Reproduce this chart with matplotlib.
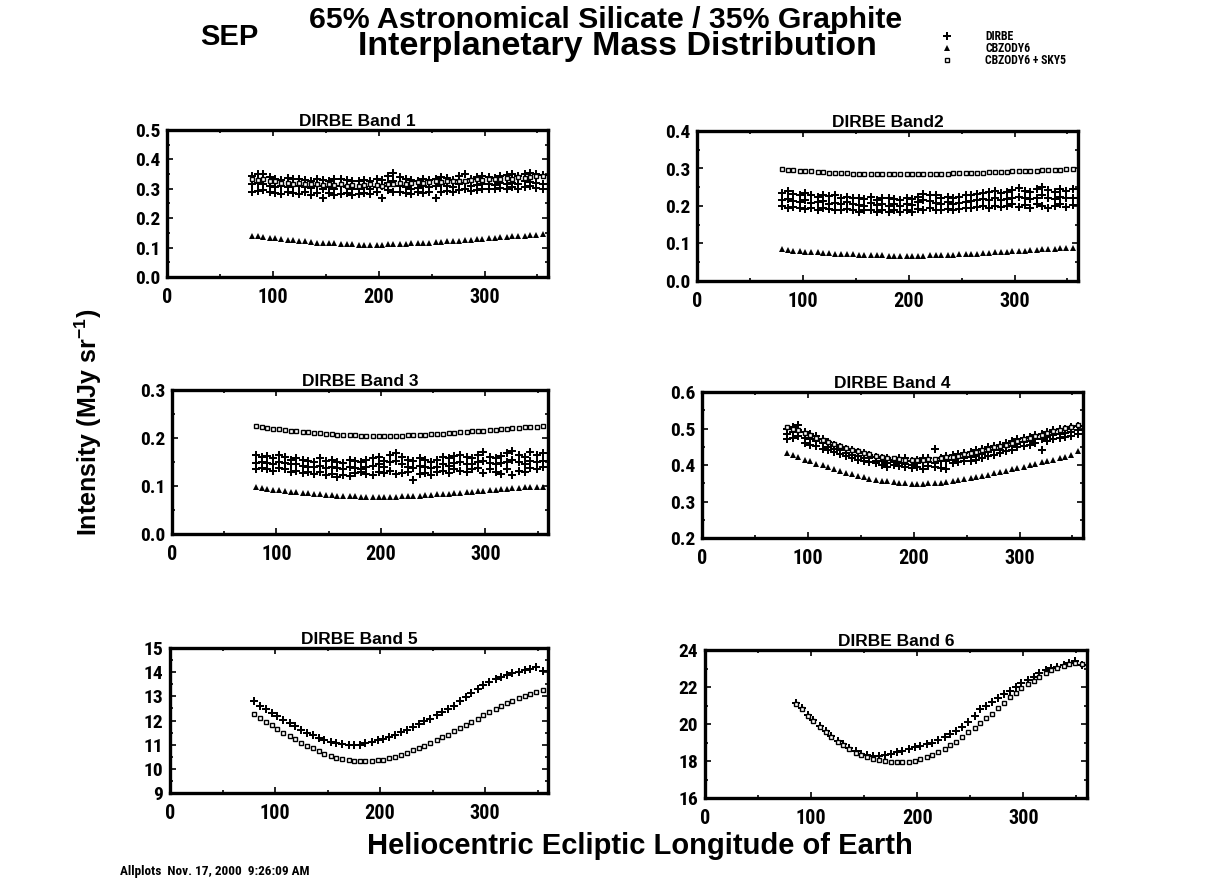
import matplotlib
matplotlib.use("Agg")
import matplotlib.pyplot as plt
from matplotlib import font_manager
from matplotlib.ticker import MultipleLocator, FormatStrFormatter

# narrow face for tick labels, Arial-like bold for titles
installed = {f.name for f in font_manager.fontManager.ttflist}
candidates = ['Liberation Sans Narrow', 'Arial Narrow', 'Roboto Condensed',
              'Archivo Narrow', 'IBM Plex Sans Condensed', 'Open Sans Condensed']
narrow = [c for c in candidates if c in installed][:1]
plt.rcParams['font.family'] = narrow + ['DejaVu Sans']
plt.rcParams['font.weight'] = 'bold'
ARIAL = ['Liberation Sans', 'Arimo', 'DejaVu Sans']
plt.rcParams['mathtext.fontset'] = 'custom'
plt.rcParams['mathtext.rm'] = 'Liberation Sans:bold'
plt.rcParams['mathtext.bf'] = 'Liberation Sans:bold'

# =====================================================================
# DATA
# =====================================================================
lon = [80, 86, 91, 97, 102, 108, 114, 119, 125, 130, 136, 142, 147, 153, 158,
       164, 170, 175, 181, 186, 192, 198, 203, 209, 214, 220, 226, 231, 237, 242,
       248, 254, 259, 265, 270, 276, 282, 287, 293, 298, 304, 310, 315, 321, 326,
       332, 338, 343, 349, 355]

# Band 1
tri1 = [0.140, 0.139, 0.136, 0.133, 0.131, 0.129, 0.127, 0.125, 0.123, 0.121,
        0.119, 0.117, 0.116, 0.115, 0.114, 0.113, 0.112, 0.111, 0.110, 0.110,
        0.110, 0.110, 0.110, 0.111, 0.111, 0.112, 0.113, 0.114, 0.115, 0.116,
        0.117, 0.118, 0.120, 0.121, 0.123, 0.124, 0.126, 0.127, 0.129, 0.130,
        0.132, 0.133, 0.135, 0.136, 0.138, 0.139, 0.141, 0.142, 0.143, 0.145]
sq1 = [0.335, 0.330, 0.335, 0.325, 0.325, 0.320, 0.320, 0.318, 0.320, 0.315,
       0.318, 0.315, 0.312, 0.315, 0.312, 0.315, 0.310, 0.312, 0.310, 0.312,
       0.315, 0.312, 0.310, 0.315, 0.318, 0.320, 0.318, 0.320, 0.322, 0.320,
       0.322, 0.325, 0.322, 0.325, 0.328, 0.325, 0.328, 0.330, 0.332, 0.330,
       0.335, 0.332, 0.335, 0.338, 0.335, 0.340, 0.338, 0.340, 0.342, 0.345]
dirbe1_a = [0.345, 0.350, 0.352, 0.340, 0.335, 0.330, 0.338, 0.332, 0.335, 0.330,
            0.328, 0.335, 0.330, 0.325, 0.332, 0.335, 0.330, 0.328, 0.325, 0.330,
            0.328, 0.335, 0.330, 0.345, 0.355, 0.340, 0.335, 0.330, 0.325, 0.332,
            0.330, 0.335, 0.340, 0.338, 0.330, 0.345, 0.350, 0.335, 0.340, 0.345,
            0.340, 0.338, 0.345, 0.348, 0.350, 0.345, 0.352, 0.355, 0.350, 0.348]
dirbe1_b = [0.315, 0.320, 0.318, 0.310, 0.305, 0.310, 0.305, 0.308, 0.310, 0.305,
            0.302, 0.308, 0.300, 0.305, 0.300, 0.310, 0.305, 0.300, 0.298, 0.305,
            0.300, 0.305, 0.310, 0.320, 0.325, 0.310, 0.305, 0.300, 0.302, 0.310,
            0.305, 0.308, 0.315, 0.310, 0.305, 0.318, 0.320, 0.310, 0.312, 0.315,
            0.318, 0.312, 0.320, 0.315, 0.320, 0.318, 0.325, 0.322, 0.320, 0.318]
dirbe1_c = [0.290, 0.292, 0.295, 0.288, 0.285, 0.282, 0.290, 0.285, 0.282, 0.288,
            0.280, 0.285, 0.270, 0.285, 0.278, 0.282, 0.285, 0.280, 0.282, 0.285,
            0.283, 0.290, 0.268, 0.295, 0.290, 0.288, 0.285, 0.282, 0.290, 0.285,
            0.288, 0.270, 0.290, 0.292, 0.288, 0.295, 0.298, 0.292, 0.295, 0.298,
            0.300, 0.298, 0.302, 0.300, 0.305, 0.300, 0.305, 0.308, 0.302, 0.300]

# Band 2
tri2 = [0.085, 0.083, 0.081, 0.079, 0.078, 0.077, 0.076, 0.075, 0.074, 0.073,
        0.072, 0.071, 0.071, 0.070, 0.069, 0.069, 0.068, 0.068, 0.067, 0.067,
        0.067, 0.067, 0.067, 0.067, 0.067, 0.068, 0.068, 0.069, 0.069, 0.070,
        0.071, 0.071, 0.072, 0.073, 0.074, 0.075, 0.076, 0.077, 0.078, 0.079,
        0.080, 0.081, 0.082, 0.083, 0.084, 0.085, 0.086, 0.087, 0.088, 0.089]
sq2 = [0.298, 0.296, 0.295, 0.294, 0.293, 0.292, 0.291, 0.290, 0.289, 0.288,
       0.287, 0.287, 0.286, 0.286, 0.285, 0.285, 0.285, 0.284, 0.284, 0.284,
       0.284, 0.284, 0.284, 0.284, 0.285, 0.285, 0.285, 0.286, 0.286, 0.287,
       0.287, 0.288, 0.288, 0.289, 0.289, 0.290, 0.290, 0.291, 0.291, 0.292,
       0.292, 0.293, 0.294, 0.294, 0.295, 0.296, 0.296, 0.297, 0.298, 0.298]
dirbe2_a = [0.235, 0.240, 0.232, 0.230, 0.235, 0.228, 0.225, 0.230, 0.226, 0.228,
            0.222, 0.225, 0.220, 0.222, 0.218, 0.225, 0.215, 0.220, 0.222, 0.218,
            0.215, 0.222, 0.218, 0.225, 0.232, 0.230, 0.228, 0.222, 0.225, 0.220,
            0.225, 0.228, 0.230, 0.232, 0.235, 0.238, 0.240, 0.235, 0.238, 0.242,
            0.248, 0.240, 0.238, 0.245, 0.250, 0.242, 0.238, 0.245, 0.240, 0.245]
dirbe2_b = [0.215, 0.218, 0.212, 0.210, 0.215, 0.208, 0.210, 0.212, 0.205, 0.208,
            0.205, 0.210, 0.205, 0.202, 0.200, 0.208, 0.202, 0.205, 0.200, 0.205,
            0.200, 0.205, 0.202, 0.210, 0.215, 0.212, 0.208, 0.205, 0.210, 0.205,
            0.208, 0.210, 0.212, 0.215, 0.218, 0.215, 0.220, 0.215, 0.218, 0.222,
            0.225, 0.220, 0.218, 0.222, 0.228, 0.220, 0.218, 0.225, 0.220, 0.222]
dirbe2_c = [0.200, 0.195, 0.198, 0.195, 0.192, 0.195, 0.190, 0.195, 0.192, 0.190,
            0.188, 0.192, 0.190, 0.185, 0.188, 0.190, 0.185, 0.188, 0.185, 0.190,
            0.185, 0.188, 0.185, 0.192, 0.190, 0.195, 0.190, 0.188, 0.192, 0.190,
            0.192, 0.195, 0.195, 0.198, 0.200, 0.195, 0.200, 0.198, 0.200, 0.205,
            0.198, 0.202, 0.195, 0.205, 0.200, 0.195, 0.200, 0.205, 0.198, 0.202]

# Band 3
tri3 = [0.097, 0.096, 0.094, 0.092, 0.091, 0.089, 0.088, 0.087, 0.086, 0.085,
        0.084, 0.083, 0.082, 0.081, 0.080, 0.080, 0.079, 0.079, 0.078, 0.078,
        0.078, 0.078, 0.078, 0.078, 0.078, 0.079, 0.079, 0.080, 0.080, 0.081,
        0.082, 0.083, 0.083, 0.084, 0.085, 0.086, 0.087, 0.088, 0.089, 0.090,
        0.091, 0.092, 0.093, 0.094, 0.095, 0.096, 0.097, 0.097, 0.098, 0.098]
sq3 = [0.224, 0.222, 0.221, 0.219, 0.218, 0.216, 0.215, 0.214, 0.213, 0.212,
       0.211, 0.210, 0.209, 0.208, 0.207, 0.207, 0.206, 0.206, 0.205, 0.205,
       0.205, 0.205, 0.205, 0.205, 0.205, 0.205, 0.206, 0.206, 0.207, 0.207,
       0.208, 0.209, 0.209, 0.210, 0.211, 0.212, 0.213, 0.214, 0.214, 0.215,
       0.216, 0.217, 0.218, 0.219, 0.220, 0.221, 0.222, 0.222, 0.223, 0.224]
dirbe3_a = [0.165, 0.160, 0.162, 0.158, 0.165, 0.160, 0.155, 0.158, 0.155, 0.152,
            0.150, 0.158, 0.152, 0.155, 0.150, 0.148, 0.155, 0.152, 0.150, 0.155,
            0.158, 0.160, 0.152, 0.165, 0.168, 0.160, 0.155, 0.152, 0.158, 0.155,
            0.150, 0.155, 0.160, 0.158, 0.162, 0.165, 0.160, 0.158, 0.165, 0.170,
            0.160, 0.158, 0.162, 0.168, 0.172, 0.165, 0.160, 0.170, 0.165, 0.168]
dirbe3_b = [0.148, 0.150, 0.148, 0.145, 0.150, 0.148, 0.145, 0.145, 0.142, 0.140,
            0.140, 0.142, 0.138, 0.140, 0.138, 0.135, 0.140, 0.138, 0.135, 0.140,
            0.142, 0.145, 0.140, 0.150, 0.152, 0.145, 0.140, 0.138, 0.142, 0.140,
            0.138, 0.140, 0.145, 0.142, 0.148, 0.150, 0.145, 0.145, 0.150, 0.152,
            0.148, 0.145, 0.148, 0.150, 0.155, 0.150, 0.145, 0.152, 0.150, 0.152]
dirbe3_c = [0.135, 0.138, 0.135, 0.132, 0.138, 0.135, 0.130, 0.132, 0.128, 0.130,
            0.125, 0.130, 0.122, 0.125, 0.118, 0.122, 0.120, 0.128, 0.130, 0.125,
            0.122, 0.130, 0.128, 0.132, 0.125, 0.128, 0.130, 0.112, 0.125, 0.128,
            0.122, 0.130, 0.132, 0.128, 0.135, 0.132, 0.130, 0.135, 0.138, 0.128,
            0.135, 0.130, 0.125, 0.135, 0.122, 0.132, 0.130, 0.138, 0.135, 0.140]

# Band 4
tri4 = [0.432, 0.427, 0.421, 0.415, 0.410, 0.404, 0.399, 0.394, 0.389, 0.384,
        0.379, 0.375, 0.371, 0.367, 0.363, 0.360, 0.357, 0.355, 0.353, 0.351,
        0.350, 0.349, 0.349, 0.349, 0.350, 0.351, 0.352, 0.354, 0.356, 0.358,
        0.361, 0.364, 0.367, 0.370, 0.373, 0.377, 0.380, 0.384, 0.388, 0.391,
        0.395, 0.399, 0.403, 0.407, 0.411, 0.415, 0.419, 0.423, 0.428, 0.438]
sq4 = [0.504, 0.500, 0.495, 0.488, 0.481, 0.475, 0.469, 0.463, 0.457, 0.452,
       0.447, 0.442, 0.437, 0.433, 0.429, 0.425, 0.422, 0.420, 0.418, 0.416,
       0.415, 0.415, 0.415, 0.415, 0.416, 0.417, 0.419, 0.421, 0.423, 0.426,
       0.429, 0.432, 0.436, 0.440, 0.444, 0.448, 0.452, 0.456, 0.461, 0.465,
       0.470, 0.474, 0.479, 0.483, 0.488, 0.492, 0.497, 0.501, 0.505, 0.510]
dirbe4_a = [0.500, 0.505, 0.510, 0.490, 0.485, 0.480, 0.472, 0.462, 0.455, 0.450,
            0.445, 0.440, 0.435, 0.432, 0.428, 0.422, 0.420, 0.418, 0.415, 0.420,
            0.418, 0.412, 0.415, 0.420, 0.418, 0.445, 0.420, 0.425, 0.428, 0.430,
            0.432, 0.435, 0.440, 0.445, 0.448, 0.452, 0.455, 0.460, 0.465, 0.470,
            0.475, 0.478, 0.482, 0.485, 0.490, 0.495, 0.498, 0.500, 0.505, 0.508]
dirbe4_b = [0.485, 0.490, 0.495, 0.475, 0.470, 0.465, 0.460, 0.450, 0.445, 0.440,
            0.432, 0.428, 0.425, 0.420, 0.418, 0.412, 0.410, 0.405, 0.408, 0.405,
            0.402, 0.400, 0.405, 0.410, 0.408, 0.405, 0.410, 0.412, 0.415, 0.418,
            0.420, 0.422, 0.425, 0.430, 0.435, 0.440, 0.442, 0.448, 0.452, 0.458,
            0.462, 0.465, 0.470, 0.472, 0.478, 0.482, 0.485, 0.488, 0.490, 0.495]
dirbe4_c = [0.470, 0.475, 0.480, 0.460, 0.455, 0.452, 0.445, 0.440, 0.435, 0.430,
            0.425, 0.420, 0.415, 0.412, 0.408, 0.405, 0.400, 0.395, 0.400, 0.398,
            0.395, 0.392, 0.395, 0.390, 0.398, 0.395, 0.392, 0.388, 0.405, 0.408,
            0.410, 0.412, 0.415, 0.420, 0.425, 0.428, 0.432, 0.438, 0.442, 0.448,
            0.452, 0.455, 0.460, 0.440, 0.465, 0.470, 0.475, 0.478, 0.480, 0.485]

# Band 5
dirbe5 = [12.80, 12.62, 12.48, 12.32, 12.18, 12.02, 11.88, 11.76, 11.62, 11.50,
          11.38, 11.28, 11.20, 11.12, 11.07, 11.03, 11.00, 10.98, 11.00, 11.05,
          11.10, 11.18, 11.25, 11.33, 11.42, 11.52, 11.62, 11.72, 11.85, 11.96,
          12.08, 12.22, 12.35, 12.48, 12.62, 12.80, 12.98, 13.12, 13.30, 13.45,
          13.58, 13.70, 13.80, 13.88, 13.95, 14.02, 14.08, 14.15, 14.20, 14.05]
sq5 = [12.25, 12.10, 11.95, 11.80, 11.65, 11.50, 11.35, 11.22, 11.08, 10.95,
       10.85, 10.72, 10.62, 10.52, 10.45, 10.40, 10.36, 10.34, 10.33, 10.32,
       10.33, 10.35, 10.38, 10.43, 10.50, 10.58, 10.67, 10.76, 10.86, 10.96,
       11.07, 11.18, 11.30, 11.42, 11.55, 11.68, 11.82, 11.95, 12.08, 12.22,
       12.35, 12.48, 12.60, 12.72, 12.82, 12.92, 13.02, 13.10, 13.18, 13.25]

# Band 6 (starts at the second longitude)
lon6 = lon[1:]
dirbe6 = [21.15, 20.85, 20.50, 20.20, 19.90, 19.60, 19.35, 19.10, 18.90, 18.70,
          18.55, 18.40, 18.30, 18.25, 18.25, 18.30, 18.40, 18.50, 18.55, 18.65,
          18.75, 18.80, 18.90, 19.00, 19.15, 19.30, 19.45, 19.60, 19.85, 20.10,
          20.45, 20.80, 21.00, 21.20, 21.40, 21.60, 21.80, 22.00, 22.20, 22.40,
          22.55, 22.75, 22.90, 23.05, 23.10, 23.20, 23.30, 23.40, 23.20]
sq6 = [21.10, 20.80, 20.45, 20.15, 19.85, 19.55, 19.30, 19.05, 18.85, 18.65,
       18.45, 18.30, 18.20, 18.12, 18.05, 18.00, 17.97, 17.95, 17.95, 17.97,
       18.02, 18.10, 18.20, 18.32, 18.48, 18.65, 18.85, 19.05, 19.30, 19.55,
       19.80, 20.05, 20.30, 20.55, 20.85, 21.15, 21.45, 21.70, 21.95, 22.15,
       22.35, 22.55, 22.75, 22.90, 23.05, 23.15, 23.25, 23.30, 23.25]

band_titles = ["DIRBE Band 1", "DIRBE Band2", "DIRBE Band 3",
               "DIRBE Band 4", "DIRBE Band 5", "DIRBE Band 6"]
legend_labels = ["DIRBE", "CBZODY6", "CBZODY6 + SKY5"]

# =====================================================================
# FIGURE
# =====================================================================
W, H = 1217, 888
fig = plt.figure(figsize=(W / 100, H / 100), dpi=100)


def px_axes(left, right, top, bottom):
    return fig.add_axes([left / W, 1 - bottom / H, (right - left) / W, (bottom - top) / H])


boxes = [(167, 548, 130, 277), (697, 1078, 131, 281),
         (172, 548, 390, 534), (702, 1083, 392, 538),
         (170, 548, 648, 793), (705, 1087, 650, 798)]
ylims = [(0, 0.5), (0, 0.4), (0, 0.3), (0.2, 0.6), (9, 15), (16, 24)]
ymajor = [0.1, 0.1, 0.1, 0.1, 1, 2]
yfmt = ["%.1f", "%.1f", "%.1f", "%.1f", "%d", "%d"]

dirbe_kw = dict(ls="none", marker="P", ms=5.2, color="black", mew=0)
tri_kw = dict(ls="none", marker="^", ms=3.8, color="black", mew=0)
sq_kw = dict(ls="none", marker="s", ms=3.0, mfc="white", mec="black", mew=1.0)

axes = []
for i, box in enumerate(boxes):
    ax = px_axes(*box)
    ax.set_xlim(0, 360)
    ax.set_ylim(*ylims[i])
    ax.xaxis.set_major_locator(MultipleLocator(100))
    ax.xaxis.set_minor_locator(MultipleLocator(50))
    ax.yaxis.set_major_locator(MultipleLocator(ymajor[i]))
    ax.yaxis.set_minor_locator(MultipleLocator(ymajor[i] / 2))
    ax.yaxis.set_major_formatter(FormatStrFormatter(yfmt[i]))
    ax.tick_params(which="both", direction="in", top=True, right=True, width=1.2)
    ax.tick_params(which="major", length=4)
    ax.tick_params(which="minor", length=2.5)
    ax.tick_params(axis="x", pad=8, labelsize=14.5)
    ax.tick_params(axis="y", pad=5, labelsize=14)
    for sp in ax.spines.values():
        sp.set_linewidth(2.4)
    ax.set_title(band_titles[i], fontsize=12.5, fontweight="bold", pad=3, family=ARIAL)
    axes.append(ax)

axes[0].plot(lon, dirbe1_a, **dirbe_kw)
axes[0].plot(lon, dirbe1_b, **dirbe_kw)
axes[0].plot(lon, dirbe1_c, **dirbe_kw)
axes[0].plot(lon, sq1, **sq_kw)
axes[0].plot(lon, tri1, **tri_kw)

axes[1].plot(lon, dirbe2_a, **dirbe_kw)
axes[1].plot(lon, dirbe2_b, **dirbe_kw)
axes[1].plot(lon, dirbe2_c, **dirbe_kw)
axes[1].plot(lon, sq2, **sq_kw)
axes[1].plot(lon, tri2, **tri_kw)

axes[2].plot(lon, dirbe3_a, **dirbe_kw)
axes[2].plot(lon, dirbe3_b, **dirbe_kw)
axes[2].plot(lon, dirbe3_c, **dirbe_kw)
axes[2].plot(lon, sq3, **sq_kw)
axes[2].plot(lon, tri3, **tri_kw)

axes[3].plot(lon, dirbe4_a, **dirbe_kw)
axes[3].plot(lon, dirbe4_b, **dirbe_kw)
axes[3].plot(lon, dirbe4_c, **dirbe_kw)
axes[3].plot(lon, sq4, **sq_kw)
axes[3].plot(lon, tri4, **tri_kw)

axes[4].plot(lon, dirbe5, **dirbe_kw)
axes[4].plot(lon, sq5, **sq_kw)

axes[5].plot(lon6, dirbe6, **dirbe_kw)
axes[5].plot(lon6, sq6, **sq_kw)

# headers
fig.text(200 / W, 1 - 37 / H, "SEP", fontsize=21, fontweight="bold", va="center", ha="left",
         family=ARIAL)
fig.text(606 / W, 1 - 20 / H, "65% Astronomical Silicate / 35% Graphite",
         fontsize=21.8, fontweight="bold", va="center", ha="center", family=ARIAL)
fig.text(617 / W, 1 - 47 / H, "Interplanetary Mass Distribution",
         fontsize=24.5, fontweight="bold", va="center", ha="center", family=ARIAL)

# legend in the header
leg_y = [36, 48, 60]
leg_kw = [dirbe_kw, tri_kw, sq_kw]
for yy, lab, kw in zip(leg_y, legend_labels, leg_kw):
    fig.lines.append(plt.Line2D([947 / W], [1 - yy / H], transform=fig.transFigure, **kw))
    fig.text(985 / W, 1 - yy / H, lab, fontsize=8.5, fontweight="bold", va="center", ha="left")

fig.text(88 / W, 1 - 422 / H, "Intensity (MJy sr$^{\\mathbf{-1}}$)", rotation=90,
         fontsize=18, fontweight="bold", va="center", ha="center", family=ARIAL)
fig.text(640 / W, 1 - 846 / H, "Heliocentric Ecliptic Longitude of Earth",
         fontsize=21, fontweight="bold", va="center", ha="center", family=ARIAL)
fig.text(120 / W, 1 - 871 / H, "Allplots  Nov. 17, 2000  9:26:09 AM",
         fontsize=9.5, fontweight="bold", va="center", ha="left")

fig.savefig("out.png", dpi=100)
